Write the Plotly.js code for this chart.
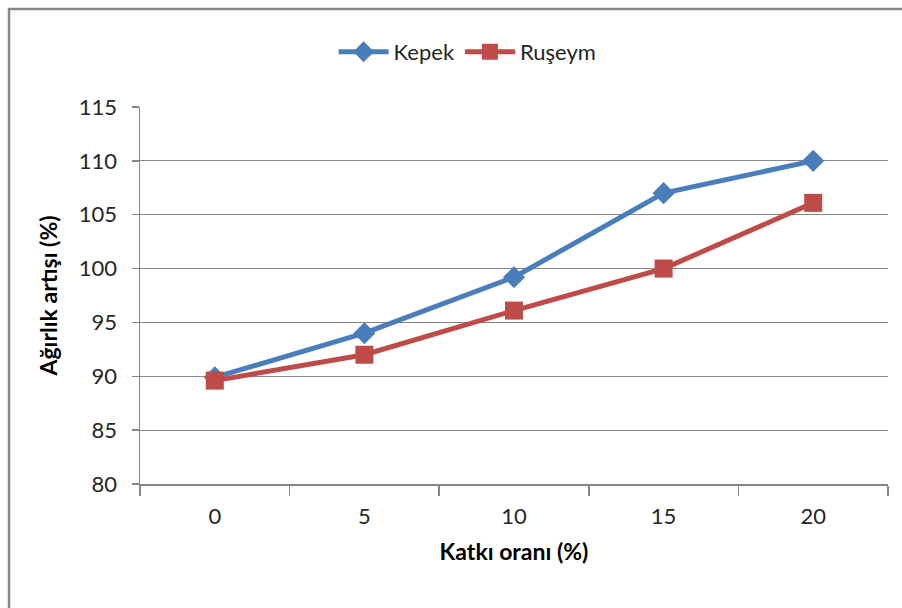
<!DOCTYPE html>
<html>
<head>
<meta charset="utf-8">
<script src="https://cdn.plot.ly/plotly-3.0.1.min.js"></script>
<style>
html,body{margin:0;padding:0;background:#fff;}
#chart{width:902px;height:608px;}
</style>
</head>
<body>
<div id="chart"></div>
<script>
var categories = ["0", "5", "10", "15", "20"];
var kepek = [89.9, 94.0, 99.2, 107.0, 110.0];
var ruseym = [89.6, 92.0, 96.1, 100.0, 106.1];
var seriesNames = ["Kepek", "Ruşeym"];
var yTitle = "Ağırlık artışı (%)";
var xTitle = "Katkı oranı (%)";

var FONT = "Lato, 'Open Sans', sans-serif";

var traces = [
  {
    x: categories, y: kepek, name: seriesNames[0], type: "scatter", mode: "lines+markers",
    line: {color: "#4A7EBB", width: 5},
    marker: {symbol: "diamond", size: 17, color: "#4A7EBB"}
  },
  {
    x: categories, y: ruseym, name: seriesNames[1], type: "scatter", mode: "lines+markers",
    line: {color: "#BE4B48", width: 5},
    marker: {symbol: "square", size: 18, color: "#BE4B48"}
  }
];

var layout = {
  width: 902, height: 608,
  margin: {l: 140, r: 14, t: 107, b: 124},
  paper_bgcolor: "#ffffff", plot_bgcolor: "#ffffff",
  font: {family: FONT, size: 22, color: "#262626"},
  showlegend: true,
  legend: {
    orientation: "h", x: 0.438, xanchor: "center", y: 1.146, yanchor: "middle",
    font: {family: FONT, size: 22, color: "#262626"}, itemwidth: 50,
    bgcolor: "rgba(0,0,0,0)"
  },
  xaxis: {
    type: "category", range: [-0.5, 4.5],
    tickson: "boundaries", ticks: "outside", ticklen: 10, tickcolor: "#868686", tickwidth: 1.5,
    showline: true, linecolor: "#868686", linewidth: 1.5,
    showgrid: false, zeroline: false,
    ticklabelstandoff: 12,
    tickfont: {family: FONT, size: 22, color: "#262626"},
    title: {text: xTitle, font: {family: FONT, size: 23, color: "#000", weight: "bold"}, standoff: 16}
  },
  yaxis: {
    range: [80, 115], dtick: 5, tick0: 80,
    ticks: "outside", ticklen: 7, tickcolor: "#868686", tickwidth: 1.5,
    showline: true, linecolor: "#868686", linewidth: 1.5,
    showgrid: true, gridcolor: "#868686", gridwidth: 1.2, zeroline: false,
    ticklabelstandoff: 10,
    tickfont: {family: FONT, size: 22, color: "#262626"},
    title: {text: yTitle, font: {family: FONT, size: 23, color: "#000", weight: "bold"}, standoff: 15}
  },
  shapes: [
    {type: "rect", xref: "paper", yref: "paper",
     x0: (9 - 140) / 748, x1: 1.2, y0: -0.5, y1: (484 - 9) / 377,
     line: {color: "#888888", width: 2.5}, fillcolor: "rgba(0,0,0,0)", layer: "below"}
  ]
};

Plotly.newPlot("chart", traces, layout, {displayModeBar: false, staticPlot: true});
</script>
</body>
</html>
